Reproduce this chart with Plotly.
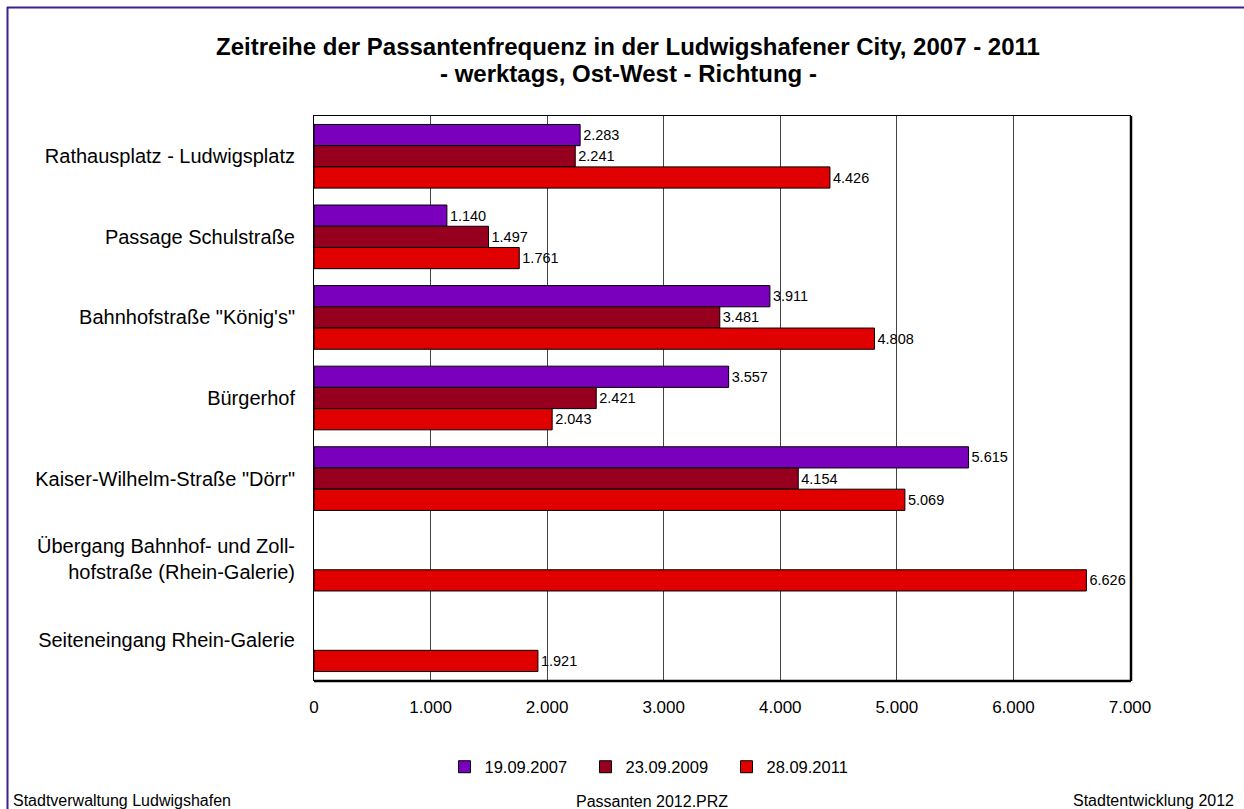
import plotly.graph_objects as go

categories = [
    "Rathausplatz - Ludwigsplatz",
    "Passage Schulstraße",
    "Bahnhofstraße \"König's\"",
    "Bürgerhof",
    "Kaiser-Wilhelm-Straße \"Dörr\"",
    "Übergang Bahnhof- und Zoll-<br>hofstraße (Rhein-Galerie)",
    "Seiteneingang Rhein-Galerie",
]
series_names = ["19.09.2007", "23.09.2009", "28.09.2011"]
v2007 = [2283, 1140, 3911, 3557, 5615, None, None]
v2009 = [2241, 1497, 3481, 2421, 4154, None, None]
v2011 = [4426, 1761, 4808, 2043, 5069, 6626, 1921]
colors = ["#7B00BE", "#96001E", "#E00000"]
tick_vals = [0, 1000, 2000, 3000, 4000, 5000, 6000, 7000]

W, H = 1244, 809
L, R, T, B = 314, 1130, 116, 680
FONT = "Liberation Sans, Arial, sans-serif"

fig = go.Figure()
for name, vals, col in zip(series_names, [v2007, v2009, v2011], colors):
    fig.add_trace(go.Bar(
        y=categories, x=vals, name=name, orientation="h",
        marker=dict(color=col, line=dict(color="#000000", width=1)),
        texttemplate="%{x:,d}", textposition="outside",
        textfont=dict(family=FONT, size=14.5, color="#000"),
        cliponaxis=False,
    ))

def px_x(p):
    return (p - L) / (R - L)

def px_y(p):
    return (B - p) / (B - T)

shapes = [
    dict(type="line", xref="paper", yref="paper", x0=px_x(7.5), x1=px_x(7.5), y0=px_y(7), y1=px_y(830),
         line=dict(color="#3C1E8C", width=2)),
    dict(type="line", xref="paper", yref="paper", x0=px_x(7), x1=px_x(1260), y0=px_y(7.5), y1=px_y(7.5),
         line=dict(color="#3C1E8C", width=2)),
    dict(type="line", xref="paper", yref="paper", x0=0, x1=px_x(R + 1), y0=px_y(B + 1), y1=px_y(B + 1),
         line=dict(color="#000", width=2.5)),
    dict(type="line", xref="paper", yref="paper", x0=px_x(R + 1), x1=px_x(R + 1), y0=px_y(B + 1), y1=1,
         line=dict(color="#000", width=2.5)),
]

annotations = [
    dict(text="<b>- werktags, Ost-West - Richtung -</b>", xref="paper", yref="paper",
         x=px_x(628), y=px_y(74), xanchor="center", yanchor="middle", showarrow=False,
         font=dict(family=FONT, size=24, color="#000")),
    dict(text="Stadtverwaltung Ludwigshafen", xref="paper", yref="paper",
         x=px_x(11), y=px_y(800), xanchor="left", yanchor="middle", showarrow=False,
         font=dict(family=FONT, size=16, color="#000")),
    dict(text="Passanten 2012.PRZ", xref="paper", yref="paper",
         x=px_x(652), y=px_y(801), xanchor="center", yanchor="middle", showarrow=False,
         font=dict(family=FONT, size=16, color="#000")),
    dict(text="Stadtentwicklung 2012", xref="paper", yref="paper",
         x=px_x(1236), y=px_y(800), xanchor="right", yanchor="middle", showarrow=False,
         font=dict(family=FONT, size=16, color="#000")),
]

fig.update_layout(
    width=W, height=H,
    margin=dict(l=L, r=W - R, t=T, b=H - B, autoexpand=False),
    paper_bgcolor="white", plot_bgcolor="white",
    separators=",.",
    barmode="group", bargap=0.21, bargroupgap=0,
    font=dict(family=FONT, color="#000"),
    title=dict(
        text="<b>Zeitreihe der Passantenfrequenz in der Ludwigshafener City, 2007 - 2011</b>",
        x=628 / W, xanchor="center", xref="container",
        y=1 - 47 / H, yanchor="middle", yref="container",
        font=dict(family=FONT, size=24, color="#000"),
    ),
    xaxis=dict(
        range=[0, 7000], tickvals=tick_vals, tickformat=",d",
        showgrid=True, gridcolor="#444", gridwidth=1,
        showline=True, linecolor="#000", linewidth=1, mirror=True,
        ticks="", ticklabelstandoff=12, tickfont=dict(family=FONT, size=17, color="#000"),
        zeroline=False,
    ),
    yaxis=dict(
        autorange="reversed", showgrid=False,
        showline=True, linecolor="#000", linewidth=1, mirror=True,
        ticks="", ticklabelstandoff=14, tickfont=dict(family=FONT, size=20, color="#000"),
    ),
    legend=dict(
        orientation="h", xref="container", yref="container",
        x=656 / W, xanchor="center", y=1 - 767 / H, yanchor="middle",
        font=dict(family=FONT, size=16.5, color="#000"), traceorder="normal",
        entrywidth=96, entrywidthmode="pixels",
    ),
    shapes=shapes, annotations=annotations, showlegend=True,
)

fig.write_html("out.html", config={"displayModeBar": False},
               post_script="document.body.style.margin='0';document.body.style.overflow='hidden';")
